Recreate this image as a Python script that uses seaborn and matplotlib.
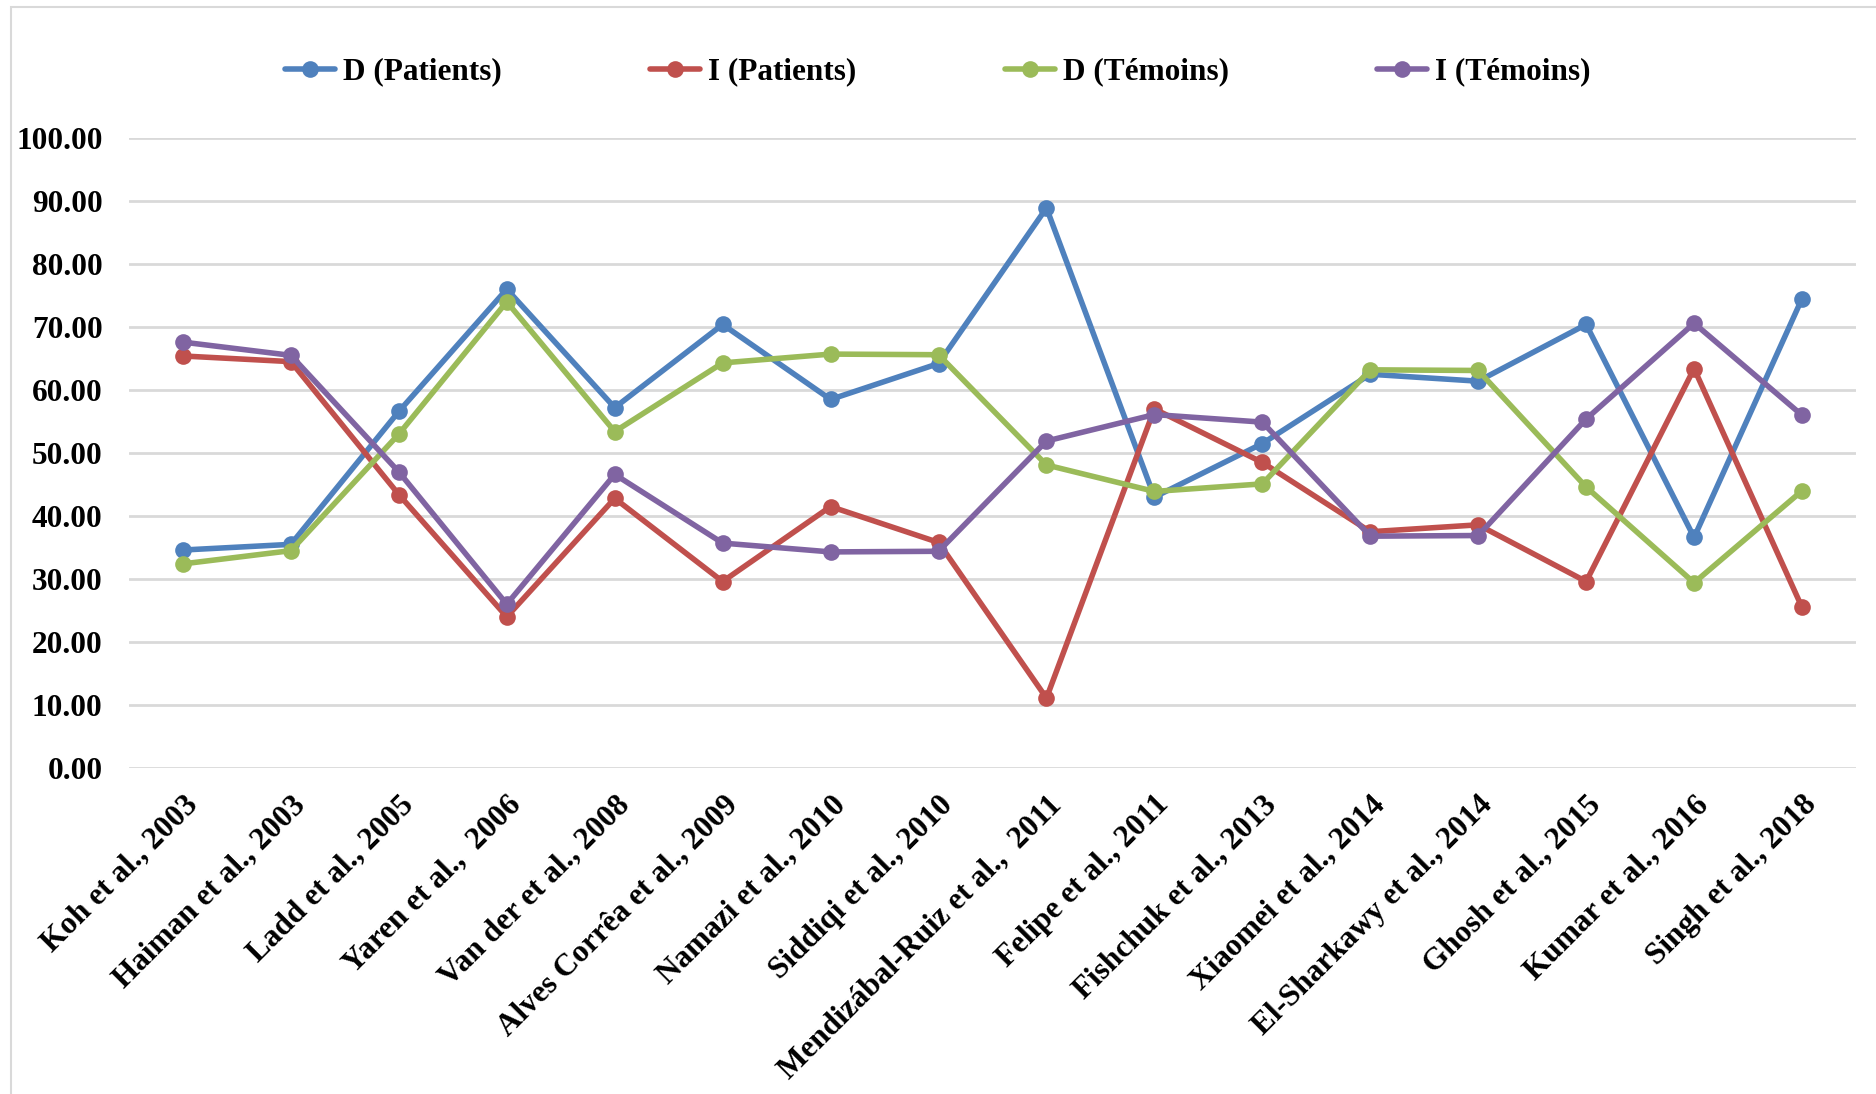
import matplotlib
matplotlib.use("Agg")
import matplotlib.pyplot as plt
from matplotlib.patches import Rectangle
import seaborn as sns
import pandas as pd

studies = [
    "Koh et al., 2003", "Haiman et al., 2003", "Ladd et al., 2005",
    "Yaren et al.,  2006", "Van der et al., 2008", "Alves Corrêa et al., 2009",
    "Namazi et al., 2010", "Siddiqi et al., 2010", "Mendizábal-Ruiz et al.,  2011",
    "Felipe et al., 2011", "Fishchuk et al., 2013", "Xiaomei et al., 2014",
    "El-Sharkawy et al., 2014", "Ghosh et al., 2015", "Kumar et al., 2016",
    "Singh et al., 2018",
]
d_patients = [34.6, 35.5, 56.6, 76.0, 57.2, 70.4, 58.5, 64.2, 88.9, 43.0,
              51.5, 62.5, 61.4, 70.4, 36.6, 74.5]
i_patients = [65.4, 64.5, 43.4, 24.0, 42.8, 29.6, 41.5, 35.8, 11.1, 57.0,
              48.5, 37.5, 38.6, 29.6, 63.4, 25.5]
d_temoins = [32.4, 34.5, 53.0, 74.0, 53.4, 64.3, 65.7, 65.6, 48.1, 43.9,
             45.1, 63.2, 63.1, 44.6, 29.4, 44.0]
i_temoins = [67.6, 65.5, 47.0, 26.0, 46.6, 35.7, 34.3, 34.4, 51.9, 56.1,
             54.9, 36.8, 36.9, 55.4, 70.6, 56.0]

series_names = ["D (Patients)", "I (Patients)", "D (Témoins)", "I (Témoins)"]
series_values = [d_patients, i_patients, d_temoins, i_temoins]
colors = ["#4F81BD", "#C0504D", "#9BBB59", "#8064A2"]
y_ticks = [0, 10, 20, 30, 40, 50, 60, 70, 80, 90, 100]

df = pd.concat(
    [pd.DataFrame({"study": studies, "value": vals, "series": name})
     for name, vals in zip(series_names, series_values)],
    ignore_index=True,
)

sns.set_theme(style="white")
plt.rcParams["font.family"] = ["Liberation Serif", "DejaVu Serif"]
plt.rcParams["font.weight"] = "bold"
plt.rcParams["text.color"] = "black"
plt.rcParams["xtick.color"] = "black"
plt.rcParams["ytick.color"] = "black"

FS = 22.5

fig = plt.figure(figsize=(18.76, 10.94), dpi=100)
ax = fig.add_axes([129 / 1876, 1 - 768 / 1094, (1856 - 129) / 1876, (768 - 138) / 1094])

# chart area frame
fig.patches.append(Rectangle((11 / 1876, -0.05), 1.2, 1.05 - 7 / 1094,
                             transform=fig.transFigure, fill=False,
                             edgecolor="#D9D9D9", linewidth=1.5, zorder=0))

sns.lineplot(data=df, x="study", y="value", hue="series", hue_order=series_names,
             palette=colors, marker="o", markersize=12, markeredgewidth=0,
             linewidth=4.0, sort=False, ax=ax, legend=True)

ax.set_ylim(0, 100)
ax.set_xlim(-0.5, len(studies) - 0.5)
ax.set_yticks(y_ticks)
ax.set_yticklabels([f"{v:.2f}" for v in y_ticks], fontsize=FS, fontweight="bold")
ax.set_xticks(range(len(studies)))
ax.set_xticklabels(studies, rotation=45, ha="right", rotation_mode="anchor",
                   fontsize=FS, fontweight="bold")
ax.tick_params(axis="x", pad=16, length=0)
ax.tick_params(axis="y", pad=19, length=0)
ax.set_xlabel("")
ax.set_ylabel("")
ax.yaxis.grid(True, color="#D9D9D9", linewidth=2)
ax.xaxis.grid(False)
ax.set_axisbelow(True)
for s in ax.spines.values():
    s.set_visible(False)

handles, labels = ax.get_legend_handles_labels()
ax.legend_.remove()
fig.legend(handles, labels, loc="center", bbox_to_anchor=(0.5, 1 - 72 / 1094),
           ncol=4, frameon=False, handlelength=1.6, columnspacing=4.75,
           handletextpad=0.25, prop={"size": FS, "weight": "bold"})

fig.savefig("out.png", dpi=100, facecolor="white")
